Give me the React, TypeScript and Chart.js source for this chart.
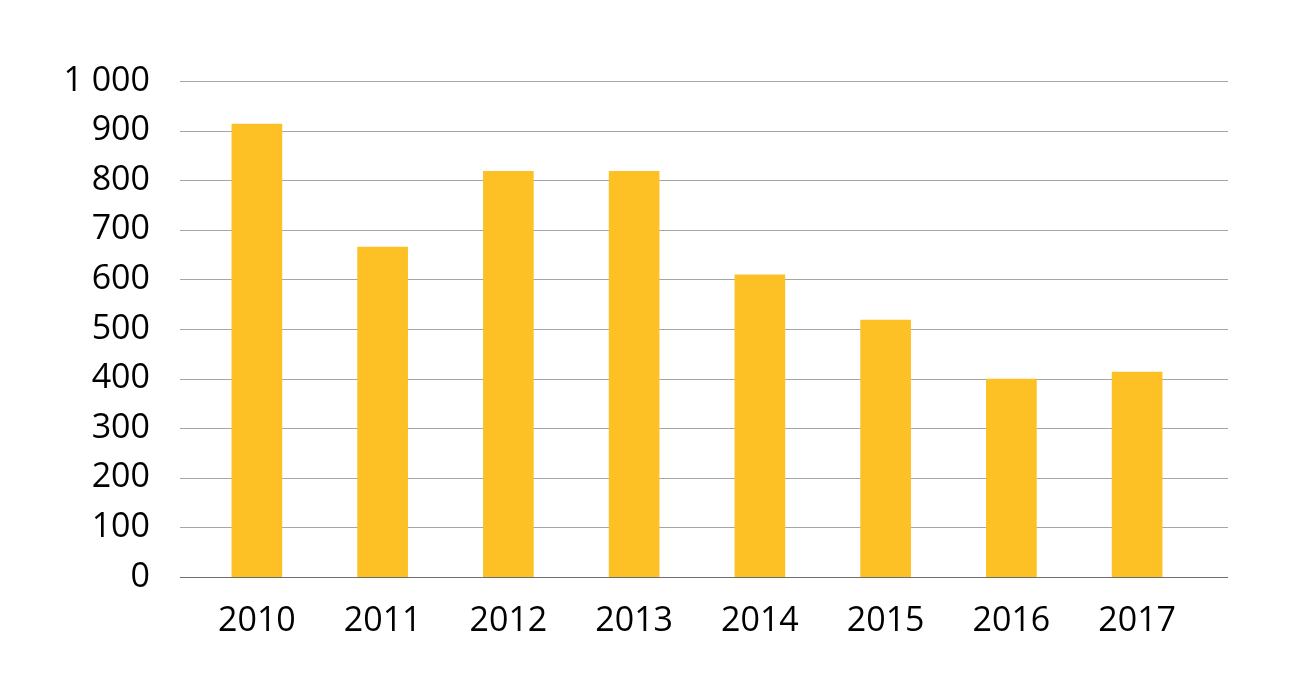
import React, { useEffect, useRef } from "react";
import { Chart, registerables } from "chart.js";

Chart.register(...registerables);

const categories = ["2010", "2011", "2012", "2013", "2014", "2015", "2016", "2017"];
const values = [913, 665, 818, 818, 609, 518, 399, 413];
const yTicks = [0, 100, 200, 300, 400, 500, 600, 700, 800, 900, 1000];

const gridPlugin = {
  id: "wideGrid",
  beforeDatasetsDraw(chart: any) {
    const { ctx, chartArea, scales } = chart;
    const y = scales.y;
    ctx.save();
    y.ticks.forEach((t: any) => {
      const py = Math.round(y.getPixelForValue(t.value)) + 0.5;
      ctx.beginPath();
      ctx.strokeStyle = t.value === 0 ? "#6e6e6e" : "#a6a6a6";
      ctx.lineWidth = 1;
      ctx.moveTo(chartArea.left - 14, py);
      ctx.lineTo(chartArea.right + 28, py);
      ctx.stroke();
    });
    ctx.restore();
  },
};

export default function App() {
  const ref = useRef<HTMLCanvasElement>(null);
  useEffect(() => {
    if (!ref.current) return;
    const chart = new Chart(ref.current, {
      type: "bar",
      data: {
        labels: categories,
        datasets: [
          {
            data: values,
            backgroundColor: "#FDC125",
            barThickness: 50,
          },
        ],
      },
      options: {
        animation: false,
        responsive: false,
        layout: { padding: { top: 73, right: 92, left: 0, bottom: 0 } },
        plugins: { legend: { display: false }, tooltip: { enabled: false } },
        scales: {
          y: {
            min: 0,
            max: 1000,
            afterBuildTicks(scale: any) {
              scale.ticks = yTicks.map((v) => ({ value: v }));
            },
            afterFit(scale: any) {
              scale.width = 186;
            },
            grid: { display: false, drawTicks: false },
            border: { display: false },
            ticks: {
              padding: 44,
              color: "#000",
              font: { family: "Open Sans", size: 34 },
              callback: (v: any) => (v >= 1000 ? "1 000" : String(v)),
            },
          },
          x: {
            afterFit(scale: any) {
              scale.height = 115;
            },
            grid: { display: false, drawTicks: false },
            border: { display: false },
            ticks: {
              padding: 24,
              color: "#000",
              maxRotation: 0,
              font: { family: "Open Sans", size: 34 },
            },
          },
        },
      },
      plugins: [gridPlugin],
    });
    return () => chart.destroy();
  }, []);
  return (
    <div style={{ width: 1284, height: 684 }}>
      <canvas ref={ref} width={1284} height={684} />
    </div>
  );
}
